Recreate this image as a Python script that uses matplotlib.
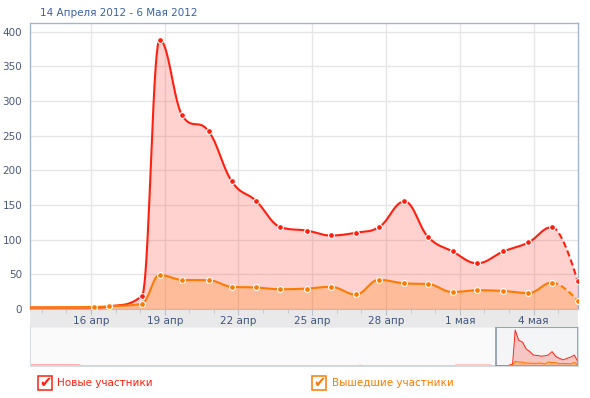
import matplotlib
matplotlib.use("Agg")
import matplotlib.pyplot as plt
import matplotlib.dates as mdates
from matplotlib.patches import Rectangle
import numpy as np
import pandas as pd


# main chart data (one point per day, times)
times = [
    "2012-04-13 00:00", "2012-04-16 03:00", "2012-04-16 18:00", "2012-04-18 02:00",
    "2012-04-18 19:00", "2012-04-19 17:00", "2012-04-20 19:00", "2012-04-21 17:30",
    "2012-04-22 17:00", "2012-04-23 17:00", "2012-04-24 19:00", "2012-04-25 18:00",
    "2012-04-26 18:30", "2012-04-27 17:00", "2012-04-28 18:00", "2012-04-29 17:00",
    "2012-04-30 17:00", "2012-05-01 17:00", "2012-05-02 18:30", "2012-05-03 19:00",
    "2012-05-04 18:00", "2012-05-05 19:00",
]
new_members = [2, 2, 4, 19, 388, 279, 256, 184, 156, 118, 113, 106, 110, 118, 155,
               104, 83, 66, 83, 96, 118, 40]
left_members = [2, 3, 4, 7.7, 49, 42, 41.5, 32, 31, 28.5, 29.5, 32, 21, 42, 37,
                36, 24.5, 27, 26, 23, 38, 12]

# navigator history before the selected window
nav_times = ["2011-12-10", "2011-12-23", "2011-12-24", "2012-03-07", "2012-03-08",
             "2012-03-09", "2012-04-02", "2012-04-03", "2012-04-12", "2012-04-13"]
nav_new = [15, 15, 2, 2, 10, 2, 2, 12, 12, 2]
nav_left = [2, 2, 1, 1, 2, 1, 1, 2, 2, 2]

view_start = "2012-04-13 13:00"
view_end = "2012-05-05 19:40"

tick_dates = ["2012-04-16", "2012-04-19", "2012-04-22", "2012-04-25",
              "2012-04-28", "2012-05-01", "2012-05-04"]
tick_labels = ["16 апр", "19 апр", "22 апр", "25 апр", "28 апр", "1 мая", "4 мая"]

title = "14 Апреля 2012 - 6 Мая 2012"
legend_names = ["Новые участники", "Вышедшие участники"]

RED = "#ff2010"
ORANGE = "#ff7b00"
W, H = 590, 398


def dnum(values):
    return mdates.date2num(pd.to_datetime(values).to_pydatetime())


def spline_segments(xs, ys, smoothing=1.5, n=40):
    # highcharts-like spline: control points from neighbours
    cnt = len(xs)
    lc = []
    rc = []
    for i in range(cnt):
        x, y = xs[i], ys[i]
        if i == 0 or i == cnt - 1:
            lc.append((x, y))
            rc.append((x, y))
            continue
        lx, ly = xs[i - 1], ys[i - 1]
        nx, ny = xs[i + 1], ys[i + 1]
        d = smoothing + 1
        lcx = (smoothing * x + lx) / d
        lcy = (smoothing * y + ly) / d
        rcx = (smoothing * x + nx) / d
        rcy = (smoothing * y + ny) / d
        corr = ((rcy - lcy) * (rcx - x)) / (rcx - lcx) + y - rcy
        lcy += corr
        rcy += corr
        if lcy > ly and lcy > y:
            lcy = max(ly, y)
            rcy = 2 * y - lcy
        elif lcy < ly and lcy < y:
            lcy = min(ly, y)
            rcy = 2 * y - lcy
        if rcy > ny and rcy > y:
            rcy = max(ny, y)
            lcy = 2 * y - rcy
        elif rcy < ny and rcy < y:
            rcy = min(ny, y)
            lcy = 2 * y - rcy
        lc.append((lcx, lcy))
        rc.append((rcx, rcy))

    t = np.linspace(0, 1, n)[:, None]
    segs = []
    for i in range(1, cnt):
        p0 = np.array([xs[i - 1], ys[i - 1]])
        p1 = np.array(rc[i - 1])
        p2 = np.array(lc[i])
        p3 = np.array([xs[i], ys[i]])
        b = ((1 - t) ** 3) * p0 + 3 * ((1 - t) ** 2) * t * p1 + 3 * (1 - t) * t ** 2 * p2 + t ** 3 * p3
        segs.append(b)
    return segs


def draw_series(ax, xs, ys, color, fill_alpha, z):
    segs = spline_segments(xs, ys)
    solid = np.vstack(segs[:-1])
    dashed = segs[-1]
    whole = np.vstack(segs)
    ax.fill_between(whole[:, 0], whole[:, 1], 0, color=color, alpha=fill_alpha, lw=0, zorder=z)
    ax.plot(solid[:, 0], solid[:, 1], color=color, lw=1.5, zorder=z + 1, solid_capstyle="round")
    ax.plot(dashed[:, 0], dashed[:, 1], color=color, lw=1.5, ls=(0, (3, 1.6)), zorder=z + 1)
    ax.plot(xs, ys, ls="none", marker="o", ms=4.2, mfc=color, mec="white", mew=0.8, zorder=z + 2)


def px_box(l, t, r, b):
    return [l / W, 1 - b / H, (r - l) / W, (b - t) / H]


def main():
    fig = plt.figure(figsize=(W / 100, H / 100), dpi=100)
    fig.patch.set_facecolor("white")

    x = dnum(times)
    x0, x1 = dnum([view_start, view_end])

    # grey band behind the date labels
    band = fig.add_axes(px_box(30.5, 309, 578.3, 327), zorder=0)
    band.set_facecolor("#e9e9e9")
    band.set_xticks([])
    band.set_yticks([])
    for s in band.spines.values():
        s.set_visible(False)

    ax = fig.add_axes(px_box(30.5, 22.7, 578.3, 309), zorder=2)
    ax.set_xlim(x0, x1)
    ax.set_ylim(0, 412.8)

    draw_series(ax, x, new_members, RED, 0.2, 3)
    draw_series(ax, x, left_members, ORANGE, 0.25, 6)

    ax.set_yticks(np.arange(0, 401, 50))
    ax.set_xticks(dnum(tick_dates))
    ax.set_xticklabels(tick_labels)
    ax.xaxis.set_minor_locator(mdates.DayLocator())
    ax.grid(True, which="major", color="#e6e6e6", lw=1, zorder=0)
    ax.set_axisbelow(True)
    ax.tick_params(axis="y", length=0, pad=6, labelsize=7.5, labelcolor="#4a5a7a")
    ax.tick_params(axis="x", which="major", length=4, pad=1.2, labelsize=7.5,
                   labelcolor="#3d5580", color="#b8c2cc")
    ax.tick_params(axis="x", which="minor", length=3, color="#b8c2cc")
    for side in ["left", "top", "right"]:
        ax.spines[side].set_color("#a4b4cc")
        ax.spines[side].set_linewidth(1)
    ax.spines["bottom"].set_color("#c8d0d8")
    ax.spines["bottom"].set_linewidth(0.8)

    fig.text(40 / W, 1 - 13 / H, title, color="#3a62a0", fontsize=7.5, va="center", ha="left")

    # navigator
    nav = fig.add_axes(px_box(30.5, 327.3, 578.3, 366), zorder=1)
    nav.set_facecolor("#f3f5f6")
    nx = np.concatenate([dnum(nav_times), x[1:]])
    n_new = np.concatenate([nav_new, new_members[1:]])
    n_left = np.concatenate([nav_left, left_members[1:]])
    nav.fill_between(nx, n_new, 0, color=RED, alpha=0.22, lw=0)
    nav.plot(nx, n_new, color=RED, lw=0.7)
    nav.fill_between(nx, n_left, 0, color=ORANGE, alpha=0.25, lw=0)
    nav.plot(nx, n_left, color=ORANGE, lw=0.8)
    nav.set_xlim(nx[0], x1)
    nav.set_ylim(0, 417)
    # light mask outside the selected range, outline around it
    nav.add_patch(Rectangle((nx[0], 0), x0 - nx[0], 417, facecolor="white", alpha=0.6,
                            lw=0, zorder=4))
    nav.add_patch(Rectangle((x0, 0), x1 - x0, 417, facecolor="none",
                            edgecolor="#8899ad", lw=1.2, zorder=5))
    nav.set_xticks([])
    nav.set_yticks([])
    for s in nav.spines.values():
        s.set_color("#d4dbe2")
        s.set_linewidth(0.8)

    # legend with check boxes
    for (l, tx), name, color in zip([(37.5, 57.3), (312.3, 331.7)], legend_names, [RED, ORANGE]):
        fig.patches.append(Rectangle((l / W, 1 - 390.3 / H), 14 / W, 14 / H,
                                     transform=fig.transFigure, facecolor="white",
                                     edgecolor=color, lw=1.1))
        fig.text((l + 7.5) / W, 1 - 382.5 / H, "✔", color=color, fontsize=10.5,
                 ha="center", va="center", family="DejaVu Sans")
        fig.text(tx / W, 1 - 383.3 / H, name, color=color, fontsize=7.5,
                 ha="left", va="center")

    fig.savefig("out.png", dpi=100)


if __name__ == "__main__":
    main()
